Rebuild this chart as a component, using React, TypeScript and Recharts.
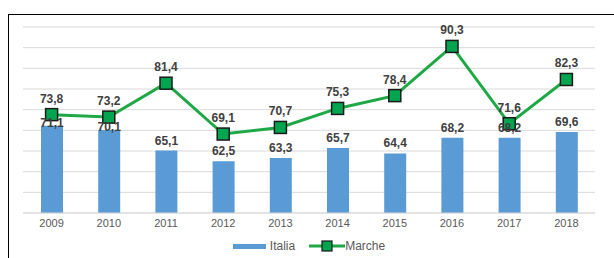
import {
  ComposedChart,
  Bar,
  Line,
  XAxis,
  YAxis,
  CartesianGrid,
  Legend,
  LabelList,
} from "recharts"

const years = ["2009", "2010", "2011", "2012", "2013", "2014", "2015", "2016", "2017", "2018"]
const italia = [71.1, 70.1, 65.1, 62.5, 63.3, 65.7, 64.4, 68.2, 68.2, 69.6]
const marche = [73.8, 73.2, 81.4, 69.1, 70.7, 75.3, 78.4, 90.3, 71.6, 82.3]
const yTicks = [50, 55, 60, 65, 70, 75, 80, 85, 90, 95]

const data = years.map((year, i) => ({ year, italia: italia[i], marche: marche[i] }))

const BLUE = "#5B9BD5"
const GREEN = "#1FA846"
const MARKER = "#00A550"
const LABEL = "#404040"
const FONT = "'Liberation Sans', Arial, sans-serif"

const fmt = (v: number) => v.toFixed(1).replace(".", ",")

function SquareDot(props: any) {
  const { cx, cy } = props
  if (cx == null || cy == null) return null
  return (
    <rect x={cx - 6} y={cy - 6} width={12} height={12} fill={MARKER} stroke="#1a1a1a" strokeWidth={1.5} />
  )
}

// bar label: pushed down a bit when it would sit right on the Marche marker
function BarLabel(props: any) {
  const { x, y, width, height, value, index } = props
  const perUnit = height / (value - 50)
  const lineY = y + height - (marche[index] - 50) * perUnit
  let ly = y - 10
  if (Math.abs(ly - lineY) < 3.5) ly = y - 3
  return (
    <text
      x={x + width / 2}
      y={ly}
      textAnchor="middle"
      dominantBaseline="central"
      fontSize={12}
      fontWeight="bold"
      fill={LABEL}
      fontFamily={FONT}
    >
      {fmt(value)}
    </text>
  )
}

function LineLabel(props: any) {
  const { x, y, value } = props
  return (
    <text
      x={x}
      y={y - 16}
      textAnchor="middle"
      dominantBaseline="central"
      fontSize={12}
      fontWeight="bold"
      fill={LABEL}
      fontFamily={FONT}
    >
      {fmt(value)}
    </text>
  )
}

function LegendBox() {
  return (
    <div
      style={{
        display: "flex",
        justifyContent: "center",
        alignItems: "center",
        height: 18,
        fontSize: 12,
        color: "#595959",
        fontFamily: FONT,
        gap: 14,
      }}
    >
      <span style={{ display: "flex", alignItems: "center" }}>
        <span style={{ display: "inline-block", width: 33, height: 5, background: BLUE, marginRight: 4 }} />
        Italia
      </span>
      <span style={{ display: "flex", alignItems: "center" }}>
        <svg width={36} height={12}>
          <line x1={0} y1={6} x2={36} y2={6} stroke={GREEN} strokeWidth={3} />
          <rect x={13} y={1} width={10} height={10} fill={MARKER} stroke="#1a1a1a" strokeWidth={1.2} />
        </svg>
        Marche
      </span>
    </div>
  )
}

export default function App() {
  return (
    <div
      style={{
        position: "absolute",
        left: 8,
        top: 14,
        width: 620,
        height: 260,
        borderTop: "1px solid #000",
        borderLeft: "1px solid #000",
        background: "#fff",
      }}
    >
      <ComposedChart
        width={605}
        height={243}
        data={data}
        margin={{ top: 12, right: 19, left: 14, bottom: 3 }}
        barCategoryGap="30%"
      >
        <CartesianGrid horizontal vertical={false} stroke="#D9D9D9" />
        <XAxis
          dataKey="year"
          height={24}
          tickLine={false}
          tickMargin={0}
          axisLine={{ stroke: "#D9D9D9" }}
          tick={{ fontSize: 11, fill: "#595959", fontFamily: FONT }}
        />
        <YAxis hide domain={[50, 95]} ticks={yTicks} interval={0} type="number" />
        <Legend verticalAlign="bottom" content={<LegendBox />} />
        <Bar dataKey="italia" name="Italia" fill={BLUE} barSize={22} isAnimationActive={false}>
          <LabelList dataKey="italia" content={<BarLabel />} />
        </Bar>
        <Line
          dataKey="marche"
          name="Marche"
          stroke={GREEN}
          strokeWidth={3}
          dot={<SquareDot />}
          activeDot={false}
          isAnimationActive={false}
        >
          <LabelList dataKey="marche" content={<LineLabel />} />
        </Line>
      </ComposedChart>
    </div>
  )
}
